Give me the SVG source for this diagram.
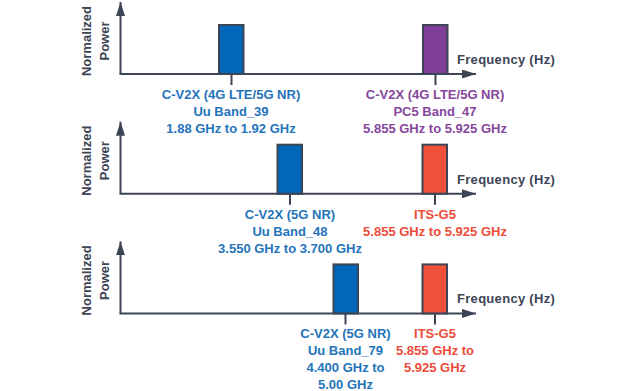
<svg xmlns="http://www.w3.org/2000/svg" width="631" height="391" viewBox="0 0 631 391">
<style>
text{font-family:"Liberation Sans",Arial,sans-serif;font-weight:bold;font-size:13px}
.ax{fill:#3d4456}
.axl{stroke:#3d4456;stroke-width:2;fill:none}
.lab{text-anchor:middle}
.b{fill:#0067b9}.bt{fill:#1f74bb}
.p{fill:#7f3f98}.pt{fill:#85469c}
.r{fill:#f0503a}.rt{fill:#ee4c38}
.bar{stroke:#3d4456;stroke-width:2}
.freq{letter-spacing:0.3px}
</style>
<defs>
<marker id="ah" viewBox="0 0 14 9" refX="14" refY="4.5" markerWidth="14" markerHeight="9" markerUnits="userSpaceOnUse" orient="auto">
<path d="M0,0 L14,4.5 L0,9 Z" fill="#3d4456"/>
</marker>
</defs>
<g id="connectors">
<path class="axl" d="M120.5,74 L120.5,2" marker-end="url(#ah)"/>
<path class="axl" d="M119.5,74 L476,74" marker-end="url(#ah)"/>
<path class="axl" d="M120.5,193.7 L120.5,121.7" marker-end="url(#ah)"/>
<path class="axl" d="M119.5,193.7 L476,193.7" marker-end="url(#ah)"/>
<path class="axl" d="M120.5,313.4 L120.5,241.4" marker-end="url(#ah)"/>
<path class="axl" d="M119.5,313.4 L476,313.4" marker-end="url(#ah)"/>
</g>
<g id="axis-labels-1">
<text class="ax lab" transform="translate(91,41) rotate(-90)">Normalized</text>
<text class="ax lab" transform="translate(108.5,41) rotate(-90)">Power</text>
<text class="ax freq" x="457" y="64">Frequency (Hz)</text>
</g>
<g id="axis-labels-2">
<text class="ax lab" transform="translate(91,160.7) rotate(-90)">Normalized</text>
<text class="ax lab" transform="translate(108.5,160.7) rotate(-90)">Power</text>
<text class="ax freq" x="457" y="183.7">Frequency (Hz)</text>
</g>
<g id="axis-labels-3">
<text class="ax lab" transform="translate(91,280.4) rotate(-90)">Normalized</text>
<text class="ax lab" transform="translate(108.5,280.4) rotate(-90)">Power</text>
<text class="ax freq" x="457" y="303.4">Frequency (Hz)</text>
</g>
<g id="band39">
<rect class="b bar" x="219" y="25" width="24.5" height="49"/>
<line class="axl" x1="231.5" y1="74" x2="231.5" y2="85"/>
<text class="bt lab" x="231" y="99">C-V2X (4G LTE/5G NR)</text>
<text class="bt lab" x="231" y="116">Uu Band_39</text>
<text class="bt lab" x="231" y="133">1.88 GHz to 1.92 GHz</text>
</g>
<g id="band47">
<rect class="p bar" x="423" y="25" width="24.5" height="49"/>
<line class="axl" x1="435.5" y1="74" x2="435.5" y2="85"/>
<text class="pt lab" x="435" y="99">C-V2X (4G LTE/5G NR)</text>
<text class="pt lab" x="435" y="116">PC5 Band_47</text>
<text class="pt lab" x="435" y="133">5.855 GHz to 5.925 GHz</text>
</g>
<g id="band48">
<rect class="b bar" x="277.5" y="144.7" width="24.5" height="49"/>
<line class="axl" x1="290" y1="193.7" x2="290" y2="204.7"/>
<text class="bt lab" x="290" y="218.7">C-V2X (5G NR)</text>
<text class="bt lab" x="290" y="235.7">Uu Band_48</text>
<text class="bt lab" x="290" y="252.7">3.550 GHz to 3.700 GHz</text>
</g>
<g id="itsg5-2">
<rect class="r bar" x="422.5" y="144.7" width="24.5" height="49"/>
<line class="axl" x1="435" y1="193.7" x2="435" y2="204.7"/>
<text class="rt lab" x="435" y="218.7">ITS-G5</text>
<text class="rt lab" x="435" y="235.7">5.855 GHz to 5.925 GHz</text>
</g>
<g id="band79">
<rect class="b bar" x="333.5" y="264.4" width="24.5" height="49"/>
<line class="axl" x1="345.5" y1="313.4" x2="345.5" y2="324.4"/>
<text class="bt lab" x="345.5" y="338.4">C-V2X (5G NR)</text>
<text class="bt lab" x="345.5" y="355.4">Uu Band_79</text>
<text class="bt lab" x="345.5" y="372.4">4.400 GHz to</text>
<text class="bt lab" x="345.5" y="389.4">5.00 GHz</text>
</g>
<g id="itsg5-3">
<rect class="r bar" x="422.5" y="264.4" width="24.5" height="49"/>
<line class="axl" x1="435" y1="313.4" x2="435" y2="324.4"/>
<text class="rt lab" x="435" y="338.4">ITS-G5</text>
<text class="rt lab" x="435" y="355.4">5.855 GHz to</text>
<text class="rt lab" x="435" y="372.4">5.925 GHz</text>
</g>
</svg>
